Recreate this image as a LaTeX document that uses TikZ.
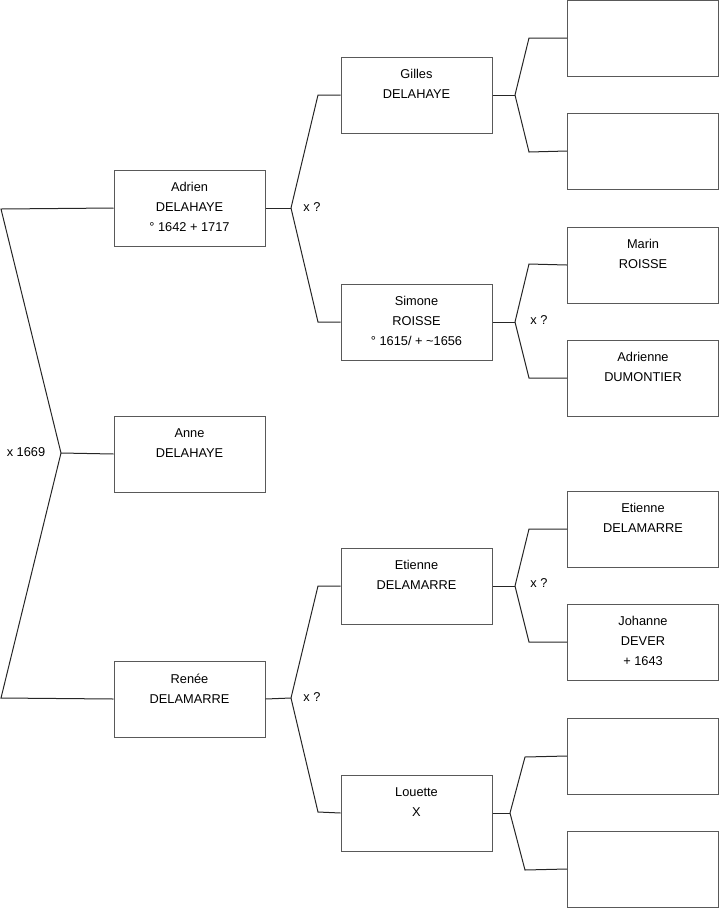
\documentclass[tikz,border=0pt]{standalone}
\usepackage{fontspec}
\setmainfont{Liberation Sans}
\usetikzlibrary{positioning}
\tikzset{
  %% person boxes
  persbox/.style={
    rectangle, draw=black!65, line width=0.75pt,
    minimum width=113.25pt, minimum height=57pt, inner sep=0pt},
  %% names inside the boxes (top aligned)
  persname/.style={
    align=center, inner sep=0pt,
    font=\fontsize{9.6}{15}\selectfont},
  %% marriage labels
  wedlabel/.style={font=\fontsize{9.6}{11}\selectfont, inner sep=0pt},
  %% connectors
  link/.style={draw=black!85, line width=0.75pt},
}

\begin{document}
\begin{tikzpicture}[x=0.75pt, y=-0.75pt]
  \useasboundingbox (0,0) rectangle (719,908);

  %% Generation 1
  \node[persbox] (adrien) at (189.5,208) {};
  \node[persbox] (anne)   at (189.5,454) {};
  \node[persbox] (renee)  at (189.5,699) {};

  %% Generation 2
  \node[persbox] (gilles)  at (416.5,95)  {};
  \node[persbox] (simone)  at (416.5,322) {};
  \node[persbox] (etienne) at (416.5,586) {};
  \node[persbox] (louette) at (416.5,813) {};

  %% Generation 3
  \node[persbox] (gg1) at (643,38)  {};
  \node[persbox] (gg2) at (643,151) {};
  \node[persbox] (gg3) at (643,265) {};
  \node[persbox] (gg4) at (643,378) {};
  \node[persbox] (gg5) at (643,529) {};
  \node[persbox] (gg6) at (643,642) {};
  \node[persbox] (gg7) at (643,756) {};
  \node[persbox] (gg8) at (643,869) {};

  %% Names
  \node[persname, below=9.6pt of adrien.north]  (adrien-t)  {Adrien\\DELAHAYE\\° 1642 + 1717};
  \node[persname, below=9.6pt of anne.north]    (anne-t)    {Anne\\DELAHAYE};
  \node[persname, below=9.6pt of renee.north]   (renee-t)   {Renée\\DELAMARRE};
  \node[persname, below=9.6pt of gilles.north]  (gilles-t)  {Gilles\\DELAHAYE};
  \node[persname, below=9.6pt of simone.north]  (simone-t)  {Simone\\ROISSE\\° 1615/ + \textasciitilde 1656};
  \node[persname, below=9.6pt of etienne.north] (etienne-t) {Etienne\\DELAMARRE};
  \node[persname, below=9.6pt of louette.north] (louette-t) {Louette\\X};
  \node[persname, below=9.6pt of gg3.north]     (gg3-t)     {Marin\\ROISSE};
  \node[persname, below=9.6pt of gg4.north]     (gg4-t)     {Adrienne\\DUMONTIER};
  \node[persname, below=9.6pt of gg5.north]     (gg5-t)     {Etienne\\DELAMARRE};
  \node[persname, below=9.6pt of gg6.north]     (gg6-t)     {Johanne\\DEVER\\+ 1643};

  %% Fork points
  \coordinate (f0)  at (1,209);
  \coordinate (f0m) at (61,453);
  \coordinate (f0b) at (1,698);
  \coordinate (f1)  at (291,208);
  \coordinate (f2)  at (291,698);
  \coordinate (f3)  at (515,95);
  \coordinate (f4)  at (515,322);
  \coordinate (f5)  at (515,586);
  \coordinate (f6)  at (510,813);

  %% Left bracket
  \draw[link] (adrien.west) -- (f0) -- (f0m) -- (f0b) -- (renee.west);
  \draw[link] (f0m) -- (anne.west);
  \node[wedlabel] (wed0) at (26,452) {x 1669};

  %% Adrien's parents
  \draw[link] (adrien.east) -- (f1);
  \draw[link] (f1) -- (318,95)  -- (gilles.west);
  \draw[link] (f1) -- (318,322) -- (simone.west);
  \node[wedlabel] (wed1) at (312,207) {x ?};

  %% Renée's parents
  \draw[link] (renee.east) -- (f2);
  \draw[link] (f2) -- (318,586) -- (etienne.west);
  \draw[link] (f2) -- (318,812) -- (louette.west);
  \node[wedlabel] (wed2) at (312,697) {x ?};

  %% Third generation
  \draw[link] (gilles.east) -- (f3);
  \draw[link] (f3) -- (529,38)  -- (gg1.west);
  \draw[link] (f3) -- (529,152) -- (gg2.west);

  \draw[link] (simone.east) -- (f4);
  \draw[link] (f4) -- (529,264) -- (gg3.west);
  \draw[link] (f4) -- (529,378) -- (gg4.west);
  \node[wedlabel] (wed3) at (539,320) {x ?};

  \draw[link] (etienne.east) -- (f5);
  \draw[link] (f5) -- (529,529) -- (gg5.west);
  \draw[link] (f5) -- (529,642) -- (gg6.west);
  \node[wedlabel] (wed4) at (539,583) {x ?};

  \draw[link] (louette.east) -- (f6);
  \draw[link] (f6) -- (525,757) -- (gg7.west);
  \draw[link] (f6) -- (525,870) -- (gg8.west);

\end{tikzpicture}
\end{document}
